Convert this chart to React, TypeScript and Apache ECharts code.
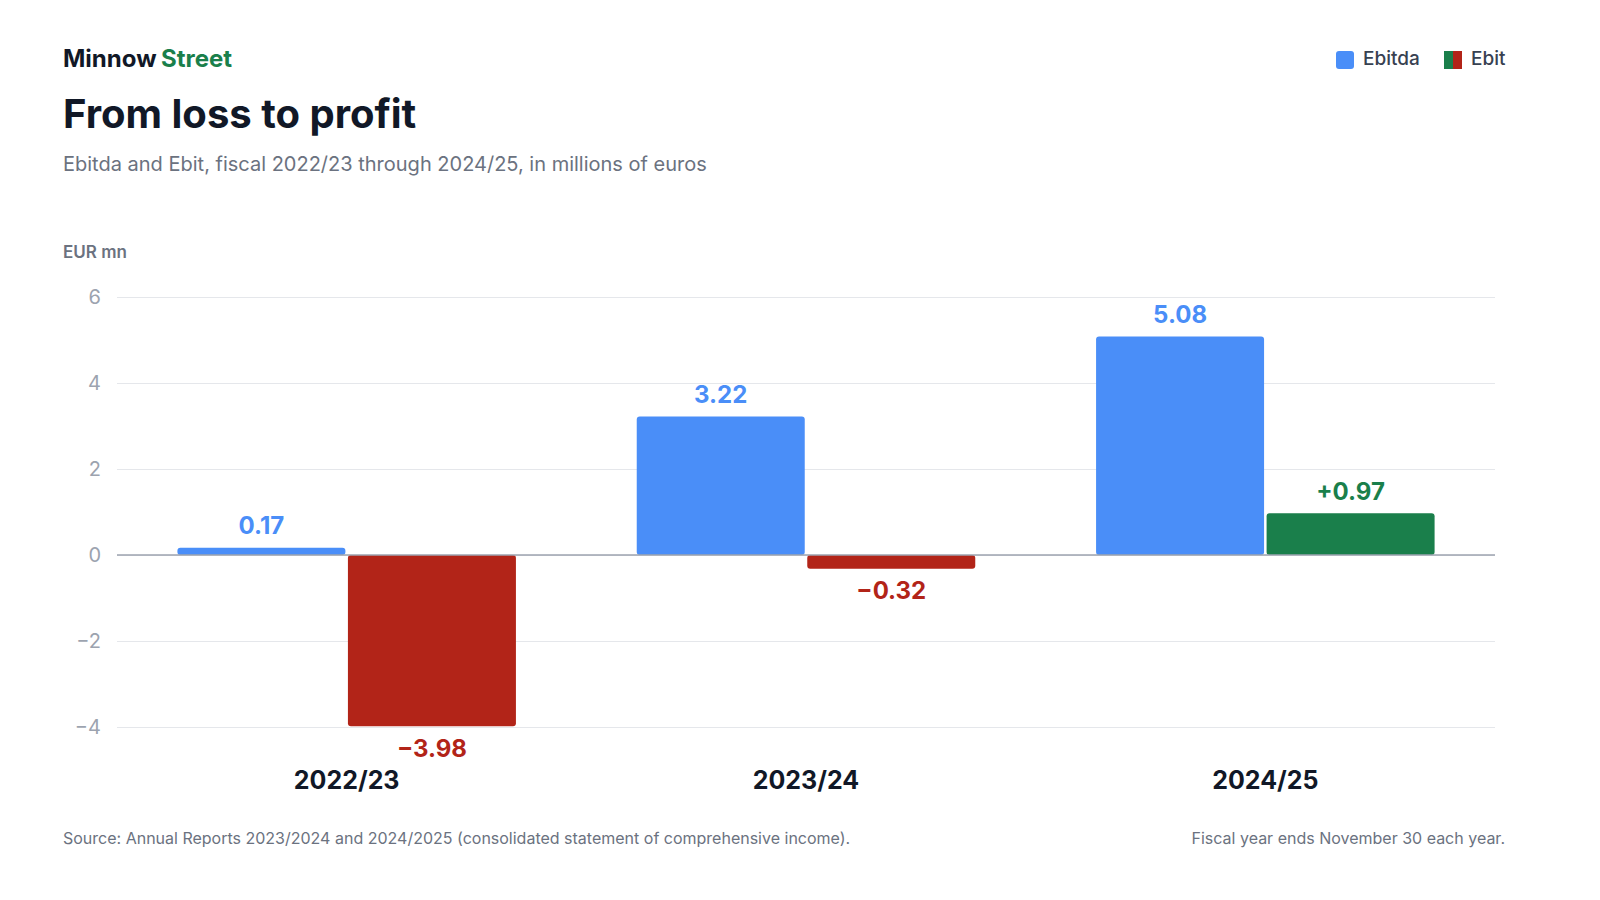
import {useEffect, useRef} from "react";
import * as echarts from "echarts";

const years = ["2022/23", "2023/24", "2024/25"];
const ebitda = [0.17, 3.22, 5.08];
const ebit = [-3.98, -0.32, 0.97];
const yTicks = [-4, -2, 0, 2, 4, 6];

const BLUE = "#4a8ef8";
const RED = "#b22418";
const GREEN = "#1a7f4b";
const FONT = "Inter, 'Noto Sans', sans-serif";

const fmt = (v: number) => v.toFixed(2).replace("-", "\u2212");

export default function App() {
    const domRef = useRef<HTMLDivElement>(null);

    useEffect(() => {
        document.body.style.margin = "0";
        if (!domRef.current) return;
        const chart = echarts.init(domRef.current, null, {renderer: "svg"});
        chart.setOption({
            animation: false,
            textStyle: {fontFamily: FONT},
            grid: {left: 117, right: 105, top: 297, bottom: 173, containLabel: false},
            graphic: [
                {type: "text", left: 63, top: 46, style: {text: "Minnow", font: `bold 24px ${FONT}`, fill: "#111827"}},
                {type: "text", left: 161, top: 46, style: {text: "Street", font: `bold 24px ${FONT}`, fill: GREEN}},
                {type: "text", left: 63, top: 93, style: {text: "From loss to profit", font: `bold 40px ${FONT}`, fill: "#111827"}},
                {type: "text", left: 63, top: 154, style: {text: "Ebitda and Ebit, fiscal 2022/23 through 2024/25, in millions of euros", font: `20px ${FONT}`, fill: "#6b7280"}},
                {type: "text", left: 63, top: 243, style: {text: "EUR mn", font: `600 17px ${FONT}`, fill: "#6b7280"}},
                {type: "rect", left: 1336, top: 51, shape: {width: 18, height: 18, r: 3}, style: {fill: BLUE}},
                {type: "text", left: 1363, top: 49, style: {text: "Ebitda", font: `500 19px ${FONT}`, fill: "#374151"}},
                {type: "rect", left: 1444, top: 51, shape: {width: 9, height: 18}, style: {fill: GREEN}},
                {type: "rect", left: 1453, top: 51, shape: {width: 9, height: 18}, style: {fill: RED}},
                {type: "text", left: 1471, top: 49, style: {text: "Ebit", font: `500 19px ${FONT}`, fill: "#374151"}},
                {type: "text", left: 63, top: 830, style: {text: "Source: Annual Reports 2023/2024 and 2024/2025 (consolidated statement of comprehensive income).", font: `16px ${FONT}`, fill: "#6b7280"}},
                {type: "text", right: 95, top: 830, style: {text: "Fiscal year ends November 30 each year.", font: `16px ${FONT}`, fill: "#6b7280", align: "right"}},
            ],
            xAxis: {
                type: "category",
                data: years,
                axisTick: {show: false},
                axisLine: {show: false},
                axisLabel: {margin: 40, color: "#111827", fontSize: 25, fontWeight: "bold"},
            },
            yAxis: {
                type: "value",
                min: yTicks[0],
                max: yTicks[yTicks.length - 1],
                interval: 2,
                axisLabel: {color: "#9ca3af", fontSize: 20, margin: 16, formatter: (v: number) => String(v).replace("-", "\u2212")},
                splitLine: {lineStyle: {color: "#e5e7eb"}},
            },
            series: [
                {
                    name: "Ebitda",
                    type: "bar",
                    data: ebitda,
                    barWidth: 168,
                    barGap: "1.5%",
                    itemStyle: {color: BLUE, borderRadius: 3},
                    label: {show: true, position: "top", distance: 10, color: BLUE, fontSize: 24, fontWeight: "bold", formatter: (p: any) => fmt(p.value)},
                    markLine: {
                        silent: true, symbol: "none", label: {show: false},
                        lineStyle: {color: "#9ca3af", type: "solid", width: 1.5},
                        data: [{yAxis: 0}],
                    },
                },
                {
                    name: "Ebit",
                    type: "bar",
                    barWidth: 168,
                    data: ebit.map(v => ({
                        value: v,
                        label: {position: v < 0 ? "bottom" : "top", color: v < 0 ? RED : GREEN},
                    })),
                    itemStyle: {color: (p: any) => (p.value < 0 ? RED : GREEN), borderRadius: 3},
                    label: {show: true, distance: 10, fontSize: 24, fontWeight: "bold", formatter: (p: any) => (p.value > 0 ? "+" : "") + fmt(p.value)},
                },
            ],
        });
        return () => chart.dispose();
    }, []);

    return <div ref={domRef} style={{width: 1600, height: 900}} />;
}
